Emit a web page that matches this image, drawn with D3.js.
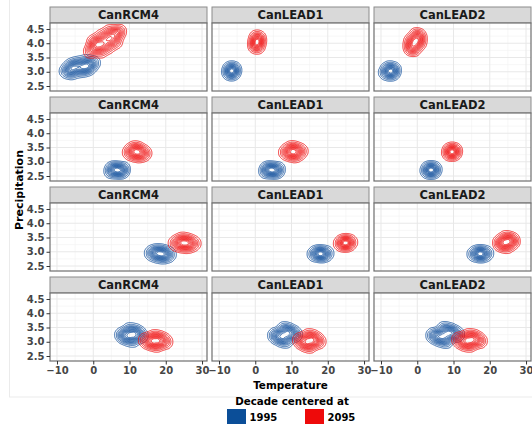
<!DOCTYPE html>
<html>
<head>
<meta charset="utf-8">
<style>
  body { margin: 0; background: #fff; }
  svg text { font-family: "DejaVu Sans", Verdana, sans-serif; font-weight: bold; }
</style>
</head>
<body>
<script src="https://d3js.org/d3.v7.min.js"></script>
<script>

var width = 532,
    height = 426;

// facet labels (columns) and legend entries
var models = ['CanRCM4', 'CanLEAD1', 'CanLEAD2'];
var decades = ['1995', '2095'];
var decadeColors = ['#0b4e98', '#ee0a0a'];
var lineColors = ['#15539e', '#f01212'];

var xTicks = [-10, 0, 10, 20, 30],
    xMinor = [-5, 5, 15, 25],
    yTicks = [2.5, 3.0, 3.5, 4.0, 4.5],
    yMinor = [2.75, 3.25, 3.75, 4.25];

// estimated (temperature, precipitation) clouds, one list per model, per row
var row1_1995 = [
  [[-7.6,3.02],[-6.6,3.06],[-5.6,3.09],[-4.6,3.13],[-3.7,3.17],[-2.7,3.2],[-1.8,3.24],[-0.8,3.27],[0.2,3.31],
   [-4.9,3.22],[-2.5,3.12],[-6.2,3.12],[-1.2,3.18],
   [-3.4,3.03],[-4.0,3.31],[-5.9,2.95],[-6.0,3.23],[-1.5,3.1],[-1.9,3.37]],
  [[-6.5,3.03],[-7.3,3.0],[-5.7,3.06],[-6.6,3.13],[-6.4,2.93]],
  [[-7.6,3.03],[-8.8,2.98],[-6.4,3.08],[-7.8,3.13],[-7.4,2.93],[-6.7,2.98]]
];
var row1_2095 = [
  [[-0.8,3.72],[0.2,3.8],[1.2,3.89],[2.2,3.97],[3.25,4.06],[4.3,4.14],[5.3,4.23],[6.3,4.32],[7.3,4.41],
   [2.7,3.9],[3.8,4.22],[0.3,3.95],[6.1,4.36],[5.0,4.08],[1.6,4.04],
   [4.2,3.88],[2.3,4.24],[2.1,3.72],[0.3,4.06],[6.2,4.05],[4.4,4.4]],
  [[0.5,4.04],[0.0,4.0],[1.0,4.08],[0.3,4.2],[0.7,3.88],[0.9,4.18],[0.1,3.9]],
  [[-0.6,4.04],[-1.8,3.86],[0.6,4.2],[-0.2,4.28],[-1.0,3.8],[-1.6,4.08],[0.4,4.0]]
];
var row2_1995 = [
  [[6.6,2.71],[5.0,2.68],[8.2,2.73],[5.8,2.76],[7.4,2.66]],
  [[4.6,2.71],[3.0,2.68],[6.2,2.73],[3.8,2.76],[5.4,2.66]],
  [[3.8,2.71],[2.7,2.69],[4.9,2.73],[3.6,2.78],[4.0,2.64]]
];
var row2_2095 = [
  [[12.1,3.35],[9.9,3.33],[14.3,3.3],[11.2,3.48],[13.0,3.22],[12.5,3.45],[11.5,3.24],[11.0,3.34],[13.2,3.33]],
  [[10.5,3.35],[8.3,3.33],[12.7,3.37],[9.7,3.48],[11.3,3.22],[11.0,3.46],[9.9,3.25],[9.4,3.34],[11.6,3.36]],
  [[9.6,3.35],[8.65,3.33],[10.55,3.37],[9.5,3.43],[9.7,3.27]]
];
var row3_1995 = [
  [[18.5,2.93],[16.0,2.95],[21.0,2.9],[17.5,3.03],[19.5,2.83],[19.2,3.0],[17.8,2.86],[17.2,2.94],[19.8,2.92]],
  [[18.0,2.93],[16.35,2.92],[19.65,2.94],[17.6,2.97],[18.4,2.89]],
  [[17.4,2.93],[15.75,2.92],[19.05,2.94],[17.2,2.98],[17.6,2.88]]
];
var row3_2095 = [
  [[25.2,3.31],[22.6,3.3],[27.8,3.29],[24.3,3.43],[26.1,3.19],[26.0,3.4],[24.4,3.22],[23.9,3.3],[26.5,3.3]],
  [[24.9,3.31],[23.55,3.29],[26.25,3.33],[24.8,3.38],[25.0,3.24]],
  [[24.6,3.34],[22.7,3.32],[26.5,3.36],[24.3,3.49],[24.9,3.19],[25.7,3.45],[23.5,3.23],[23.6,3.33],[25.6,3.35]]
];
var row4_1995 = [
  [[10.5,3.24],[7.9,3.24],[13.1,3.22],[10.0,3.41],[11.0,3.07],[11.8,3.36],[9.2,3.12],[9.2,3.24],[11.8,3.24]],
  [[8.2,3.24],[5.45,3.22],[10.95,3.26],[8.0,3.44],[8.4,3.04],[9.5,3.38],[6.9,3.1],[6.8,3.23],[9.6,3.25]],
  [[7.7,3.24],[4.5,3.22],[10.9,3.26],[7.5,3.44],[7.9,3.04],[9.3,3.38],[6.1,3.1],[6.1,3.23],[9.3,3.25]]
];
var row4_2095 = [
  [[17.2,3.03],[14.45,3.05],[19.95,3.0],[16.8,3.17],[17.6,2.89],[18.5,3.12],[15.9,2.95],[15.8,3.04],[18.6,3.02]],
  [[14.9,3.03],[12.3,3.05],[17.5,3.01],[14.7,3.2],[15.1,2.86],[16.2,3.14],[13.6,2.92],[13.6,3.04],[16.2,3.02]],
  [[14.4,3.05],[11.5,3.07],[17.3,3.03],[14.2,3.2],[14.6,2.9],[15.9,3.16],[12.9,2.94],[13.0,3.06],[15.8,3.04]]
];

var rows = [
  [row1_1995, row1_2095],
  [row2_1995, row2_2095],
  [row3_1995, row3_2095],
  [row4_1995, row4_2095]
];

// contour levels as fractions of the peak density
var levelFractions = [0.04, 0.1, 0.18, 0.26, 0.34, 0.42, 0.5, 0.58, 0.66, 0.74, 0.82, 0.9];

// layout
var panelLeft = [50, 212, 374],
    panelWidth = 157,
    stripTop = [7, 97, 187, 277],
    stripHeight = 16,
    panelHeight = 68;

var x = d3.scaleLinear().domain([-11.93, 31.37]).range([0, panelWidth]);
var y = d3.scaleLinear().domain([2.325, 4.71]).range([panelHeight, 0]);

var svg = d3.select('body').append('svg')
    .attr('width', width)
    .attr('height', height);

// faint outer frame of the plot
svg.append('rect')
    .attr('x', 9.5).attr('y', -5)
    .attr('width', 540).attr('height', 402)
    .attr('fill', 'none')
    .attr('stroke', '#ebebeb');

var path = d3.geoPath();

function densityLevels(pts) {
  var dens = d3.contourDensity()
      .x(function(d) { return x(d[0]); })
      .y(function(d) { return y(d[1]); })
      .size([panelWidth, panelHeight])
      .cellSize(1)
      .bandwidth(3.5);
  if (dens.contours) {
    var c = dens.contours(pts);
    return levelFractions.map(function(f) { return c(f * c.max); });
  }
  var all = dens.thresholds(60)(pts);
  var mx = d3.max(all, function(d) { return d.value; });
  return dens.thresholds(levelFractions.map(function(f) { return f * mx; }))(pts);
}

rows.forEach(function(row, r) {
  models.forEach(function(model, c) {
    var left = panelLeft[c],
        top = stripTop[r] + stripHeight;

    // strip
    svg.append('rect')
        .attr('x', left).attr('y', stripTop[r])
        .attr('width', panelWidth).attr('height', stripHeight)
        .attr('fill', '#d9d9d9')
        .attr('stroke', '#8c8c8c')
        .attr('stroke-width', 1);
    svg.append('text')
        .attr('x', left + panelWidth / 2)
        .attr('y', stripTop[r] + 11.8)
        .attr('text-anchor', 'middle')
        .attr('font-size', '11.5px')
        .attr('fill', '#1a1a1a')
        .text(model);

    var g = svg.append('g').attr('transform', 'translate(' + left + ',' + top + ')');

    g.append('rect')
        .attr('width', panelWidth).attr('height', panelHeight)
        .attr('fill', '#fff');

    // grid
    g.selectAll('.xminor').data(xMinor).enter().append('line')
        .attr('x1', x).attr('x2', x).attr('y1', 0).attr('y2', panelHeight)
        .attr('stroke', '#f2f2f2').attr('stroke-width', 0.6);
    g.selectAll('.yminor').data(yMinor).enter().append('line')
        .attr('y1', y).attr('y2', y).attr('x1', 0).attr('x2', panelWidth)
        .attr('stroke', '#f2f2f2').attr('stroke-width', 0.6);
    g.selectAll('.xmajor').data(xTicks).enter().append('line')
        .attr('x1', x).attr('x2', x).attr('y1', 0).attr('y2', panelHeight)
        .attr('stroke', '#e8e8e8').attr('stroke-width', 1);
    g.selectAll('.ymajor').data(yTicks).enter().append('line')
        .attr('y1', y).attr('y2', y).attr('x1', 0).attr('x2', panelWidth)
        .attr('stroke', '#e8e8e8').attr('stroke-width', 1);

    // density contours
    row.forEach(function(series, k) {
      g.append('g').selectAll('path')
          .data(densityLevels(series[c]))
          .enter().append('path')
          .attr('d', path)
          .attr('fill', 'none')
          .attr('stroke', lineColors[k])
          .attr('stroke-width', 0.85);
    });

    g.append('rect')
        .attr('width', panelWidth).attr('height', panelHeight)
        .attr('fill', 'none')
        .attr('stroke', '#6e6e6e')
        .attr('stroke-width', 1.2);

    // axes
    if (c === 0) {
      var ya = d3.axisLeft(y).tickValues(yTicks).tickFormat(d3.format('.1f')).tickSize(3.5).tickPadding(2);
      var yg = g.append('g').call(ya);
      yg.select('.domain').remove();
      yg.selectAll('line').attr('stroke', '#333');
      yg.selectAll('text').attr('font-size', '10px').attr('fill', '#454545')
          .style('font-family', '"DejaVu Sans", sans-serif');
    }
    if (r === rows.length - 1) {
      var xa = d3.axisBottom(x).tickValues(xTicks).tickFormat(d3.format('d')).tickSize(3.5).tickPadding(2);
      var xg = g.append('g').attr('transform', 'translate(0,' + panelHeight + ')').call(xa);
      xg.select('.domain').remove();
      xg.selectAll('line').attr('stroke', '#333');
      xg.selectAll('text').attr('font-size', '10px').attr('fill', '#454545')
          .style('font-family', '"DejaVu Sans", sans-serif');
    }
  });
});

// axis titles
svg.append('text')
    .attr('x', (panelLeft[0] + panelLeft[2] + panelWidth) / 2)
    .attr('y', 388.5)
    .attr('text-anchor', 'middle')
    .attr('font-size', '10.4px')
    .text('Temperature');

svg.append('text')
    .attr('transform', 'translate(23,190) rotate(-90)')
    .attr('text-anchor', 'middle')
    .attr('font-size', '11px')
    .text('Precipitation');

// legend
svg.append('text')
    .attr('x', 292)
    .attr('y', 404.5)
    .attr('text-anchor', 'middle')
    .attr('font-size', '10.3px')
    .text('Decade centered at');

var keyX = [227, 305];
decades.forEach(function(d, i) {
  svg.append('rect')
      .attr('x', keyX[i]).attr('y', 409)
      .attr('width', 19).attr('height', 15)
      .attr('fill', decadeColors[i]);
  svg.append('text')
      .attr('x', keyX[i] + 22.5)
      .attr('y', 420.5)
      .attr('font-size', '10px')
      .text(d);
});

</script>
</body>
</html>
